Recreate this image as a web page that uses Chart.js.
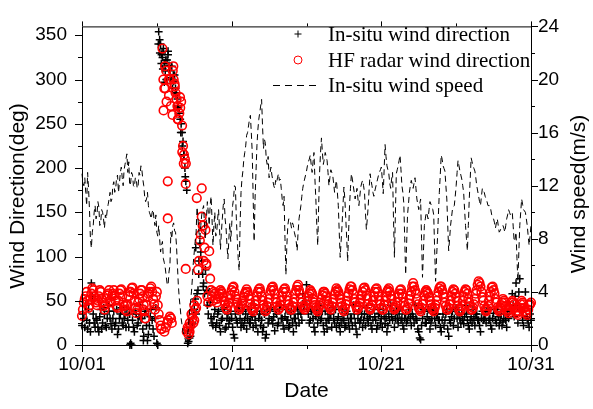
<!DOCTYPE html>
<html><head><meta charset="utf-8">
<script src="https://cdn.jsdelivr.net/npm/chart.js@4.4.1/dist/chart.umd.min.js"></script>
<style>html,body{margin:0;padding:0;background:#fff}#wrap{width:593px;height:409px;position:relative}</style>
</head><body><div id="wrap"><canvas id="c"></canvas></div>
<script>
// time step between samples (days from 10/01 00:00); "Mid" arrays are sampled half a step later
const STEP_DAYS = 0.125;

const dayTicks = [0, 10, 20, 30];
const dayTickLabels = ['10/01', '10/11', '10/21', '10/31'];
const dayMinorTicks = [5, 15, 25];
const dirTicks = [0, 50, 100, 150, 200, 250, 300, 350];
const dirMinorTicks = [25, 75, 125, 175, 225, 275, 325];
const speedTicks = [0, 4, 8, 12, 16, 20, 24];
const speedMinorTicks = [2, 6, 10, 14, 18, 22];

const seriesNames = ['In-situ wind direction', 'HF radar wind direction', 'In-situ wind speed'];
const axisTitles = { x: 'Date', y: 'Wind Direction(deg)', y2: 'Wind speed(m/s)' };

// In-situ wind direction (deg)
const insituDir = [
 22,30,45,18,25,70,35,20, 28,15,40,25,35,20,45,30, 18,38,25,12,30,42,22,35,
 40,20,2,28,15,35,25,45, 30,10,38,5,22,40,18,30, 2,354,340,325,318,300,328,310,
 315,298,290,278,262,250,230,200, 175,4,10,25,40,35,62,115, 95,70,85,45,60,30,22,40,
 25,38,15,30,42,20,35,28, 30,12,35,25,42,20,38,28, 18,40,25,32,45,22,15,35,
 28,20,8,38,30,42,24,16, 35,25,45,30,18,40,28,22, 38,15,30,42,25,35,58,45,
 68,35,28,40,20,32,25,45, 30,22,38,18,28,35,42,25, 20,32,15,40,28,22,35,18,
 30,45,25,12,38,28,20,35, 42,25,32,18,40,28,22,36, 30,40,24,15,35,45,28,20,
 38,25,42,30,18,35,28,40, 22,32,45,28,15,6,30,38, 25,40,18,30,42,22,35,28,
 15,35,28,40,10,25,38,30, 42,20,30,36,24,45,28,18, 32,40,22,35,28,15,38,30,
 25,42,30,18,36,28,40,22, 35,26,40,20,30,45,58,32, 70,25,75,38,22,60,30,20,
 28
];
const insituDirMid = [
 35,20,28,40,15,55,25,30, 20,32,18,42,22,30,38,24, 30,22,40,18,35,25,30,20,
 28,35,0,20,38,22,32,30, 18,35,22,12,32,28,10,42, 0,345,328,335,310,322,316,302,
 300,305,284,268,255,240,215,185, 2,8,20,35,52,58,95,105, 80,58,62,35,48,25,32,20,
 35,22,28,40,18,30,24,38, 20,8,28,38,30,25,22,35, 30,25,35,20,28,38,30,22,
 15,35,12,25,40,28,32,38, 22,40,30,22,32,28,20,35, 25,30,22,35,40,28,45,50,
 40,25,38,30,15,40,35,28, 38,15,25,30,35,20,30,40, 28,22,25,30,20,38,25,30,
 22,35,18,30,25,35,28,22, 30,35,22,28,32,18,35,25, 20,32,30,22,28,32,38,30,
 30,35,28,22,30,25,35,30, 35,25,30,18,8,22,40,25, 32,28,25,38,30,35,28,20,
 28,22,35,18,28,32,22,40, 30,35,25,28,32,35,22,28, 25,30,35,28,22,30,28,35,
 38,28,22,30,40,25,32,28, 22,30,28,35,38,40,45,55, 45,60,40,28,42,32,25,35
];
const insituExtraDay = [5.1,5.2,5.3,5.35,5.4,5.5,5.6,5.75,5.9,6.05,6.1,6.25,6.4,6.6,6.7,6.8,6.9,7.6,7.8,8.1,3.2,4.1];
const insituExtraDir = [340,330,318,330,312,297,322,332,300,290,305,285,270,240,225,215,190,110,80,66,0,5];

// HF radar wind direction (deg)
const radarDir = [
 33,48,55,50,45,58,62,52, 45,55,60,48,40,52,58,50, 55,62,50,42,58,63,48,40,
 38,55,60,65,50,36,48,58, 62,45,30,55,60,66,52,40, 60,35,22,335,15,310,28,300,
 25,300,285,270,262,275,225,210, 15,12,22,30,28,42,85,118, 145,95,130,55,106,62,50,58,
 48,55,62,58,50,42,45,52, 62,66,55,48,40,44,50,58, 63,56,46,40,42,50,60,64,
 55,45,38,44,52,62,66,58, 48,40,45,55,63,60,50,42, 40,48,58,66,62,52,44,40,
 46,55,62,58,48,42,38,45, 52,60,58,50,44,40,48,57, 64,60,52,44,38,46,55,63,
 66,58,48,40,44,52,60,65, 56,46,40,45,55,63,60,50, 42,40,50,60,64,56,46,40,
 44,54,62,58,48,40,42,52, 60,70,62,52,42,38,46,56, 62,58,50,42,38,45,55,64,
 66,58,48,40,42,50,60,62, 54,44,38,44,55,63,58,48, 40,42,52,62,72,66,54,44,
 38,44,55,65,62,52,42,38, 45,52,48,40,36,44,50,46, 38,34,42,50,46,38,34,45,
 48
];
const radarDirMid = [
 40,52,60,42,52,64,55,48, 50,62,52,44,46,56,62,48, 58,56,44,50,62,55,44,45,
 46,60,64,58,42,40,52,62, 55,38,45,58,64,60,46,55, 45,28,18,300,290,25,282,270,
 310,295,278,255,268,248,215,205, 20,15,35,25,40,50,95,125, 135,110,90,48,75,55,60,52,
 52,58,60,54,46,40,48,56, 65,60,52,44,42,47,54,60, 60,52,42,38,46,55,63,60,
 50,42,40,48,57,65,62,52, 44,42,50,60,64,55,46,40, 44,52,62,68,58,48,42,43,
 50,58,60,52,45,40,42,48, 56,60,55,46,42,44,52,60, 62,56,48,40,42,50,58,66,
 62,52,44,42,48,56,64,62, 52,42,42,50,60,64,55,46, 40,45,55,62,60,52,42,42,
 48,58,63,54,44,40,47,56, 66,66,58,46,40,42,50,60, 60,54,46,40,42,50,60,66,
 62,54,44,40,46,55,63,58, 50,40,40,50,60,62,52,44, 40,46,58,68,70,60,50,40,
 40,50,60,66,58,48,40,42, 48,50,44,38,40,48,48,42, 36,38,46,48,42,36,40,46
];
const radarExtraDay = [4.1,4.2,5.3,5.45,5.5,5.55,5.6,5.65,5.73,5.73,5.8,5.87,5.95,6.05,6.1,6.2,6.4,6.55,6.7,6.8,6.93,6.93,7.1,7.2,7.35,7.5,7.67,8.0,8.1,8.3];
const radarExtraDir = [40,30,18,265,290,315,20,275,185,143,300,32,30,260,315,292,255,280,218,205,182,86,18,25,35,45,166,177,135,92];

// In-situ wind speed (m/s)
const windSpeed = [
 12.9,12.0,11.5,13.0,10.2,7.3,9.0,10.5, 9.8,10.4,9.2,10.0,8.8,9.5,10.6,11.5, 11.0,12.3,11.8,12.8,12.2,13.4,12.0,13.6,
 14.4,13.8,12.2,12.8,11.9,12.5,12.0,12.8, 13.2,12.0,10.8,11.5,10.0,9.5,10.2,9.0, 8.5,9.0,7.0,7.8,6.2,5.2,4.5,6.0,
 8.0,9.2,8.5,6.0,3.5,2.0,1.0,0.5, 0.4,1.5,3.2,5.0,7.0,8.5,9.5,8.0, 9.8,10.5,8.0,10.8,9.0,11.2,7.5,10.0,
 8.5,10.2,7.2,9.5,11.0,8.8,6.5,9.2, 9.0,11.0,11.9,8.0,5.6,11.5,13.1,14.5, 15.8,16.5,17.3,14.5,7.8,13.0,16.2,17.5,
 18.5,14.8,15.2,13.6,12.6,13.4,12.4,11.8, 12.2,12.9,12.5,11.0,11.2,5.3,9.0,9.5, 8.8,9.0,8.2,7.1,9.5,10.5,11.8,12.5,
 13.1,13.8,14.3,13.0,14.5,11.0,7.5,13.0, 15.6,13.6,14.5,13.9,12.0,13.2,12.8,11.5, 12.4,10.5,6.6,9.0,11.9,9.5,6.3,10.5,
 12.9,12.0,11.0,11.8,10.5,11.9,12.4,11.5, 8.7,10.5,12.9,12.0,11.2,11.9,12.5,13.0, 13.4,11.4,15.1,13.5,12.9,11.8,13.0,6.6,
 12.9,13.5,14.3,12.0,10.7,5.3,9.8,11.5, 12.4,11.8,12.6,11.0,10.2,11.0,5.1,9.0, 10.0,9.5,10.8,10.5,9.8,4.8,8.0,11.5,
 14.3,13.5,13.1,11.0,7.1,9.0,10.2,10.5, 12.0,13.9,13.1,12.5,11.5,9.0,7.1,11.0, 14.1,13.5,13.1,12.0,11.2,10.5,11.8,11.5,
 11.0,10.5,10.5,9.8,9.5,8.8,9.5,8.5, 8.8,9.0,8.5,9.5,10.2,9.8,10.0,7.8, 8.5,4.8,9.0,11.0,10.2,10.0,9.0,7.5,
 9.0
];
const windSpeedMid = [
 12.2,12.6,10.5,11.8,8.0,8.5,10.0,9.5, 10.8,9.0,10.2,9.5,9.8,10.2,11.0,10.8, 12.0,11.5,12.6,11.5,13.0,12.6,13.2,14.0,
 13.0,12.0,13.0,12.0,12.6,11.8,13.0,13.5, 12.5,11.2,11.0,10.5,9.8,10.0,9.5,9.8, 8.2,8.0,7.5,6.5,5.8,4.6,5.5,8.5,
 9.0,8.6,7.5,4.5,2.8,1.5,0.8,0.3, 0.8,2.5,4.0,6.2,7.8,10.4,8.5,9.0, 10.2,9.0,9.5,10.0,10.5,9.5,9.0,8.2,
 9.5,8.8,8.5,10.5,9.5,7.5,8.0,7.8, 10.5,12.0,9.5,6.5,9.0,12.5,14.0,15.0, 16.0,17.0,16.0,11.0,11.0,15.0,17.0,18.0,
 16.5,15.5,14.0,14.2,13.0,12.8,12.0,12.4, 12.6,12.4,11.8,10.5,8.0,7.5,9.5,9.2, 9.2,8.5,7.8,8.5,10.0,11.2,12.2,12.8,
 13.5,14.0,13.6,13.8,12.5,9.0,10.5,14.5, 14.5,14.0,14.2,13.0,12.6,13.0,12.2,12.0, 11.5,8.5,7.8,10.5,11.0,8.0,8.5,11.8,
 12.5,11.5,11.4,11.0,11.2,12.2,12.0,10.0, 9.5,11.8,12.4,11.5,11.6,12.2,12.8,13.2, 12.5,13.2,14.2,13.2,12.2,12.5,9.5,9.8,
 13.2,13.9,13.2,11.5,8.0,7.5,10.6,12.0, 12.1,12.2,11.8,10.6,10.6,8.0,7.0,9.5, 9.8,10.2,10.6,10.2,7.2,6.5,9.8,12.8,
 14.0,13.3,12.0,9.0,8.0,9.6,10.4,11.2, 13.0,13.5,12.8,12.0,10.2,8.0,9.0,12.5, 13.8,13.3,12.6,11.6,10.8,11.2,11.6,11.2,
 10.8,10.5,10.2,9.6,9.2,9.2,9.0,8.6, 8.9,8.8,9.0,9.8,10.0,9.9,8.9,8.0, 6.5,7.0,10.0,10.6,10.1,9.5,8.2,8.2
];

// merge the on-step and half-step samples into one time-ordered table
const mergePts = (main, mid) => {
  const out = [];
  main.forEach((v, i) => {
    out.push({ x: i * STEP_DAYS, y: v });
    if (i < mid.length) out.push({ x: (i + 0.5) * STEP_DAYS, y: mid[i] });
  });
  return out;
};
const pairPts = (d, v) => d.map((x, i) => ({ x, y: v[i] }));

const SANS = '"Liberation Sans", Arial, sans-serif';
const SERIF = '"Liberation Serif", "Times New Roman", serif';

const crossStyle = { showLine: false, pointStyle: 'cross', pointRadius: 3.9, pointBorderWidth: 1.5, borderColor: '#000', backgroundColor: '#000', yAxisID: 'y', clip: false, order: 2 };
const circleStyle = { showLine: false, pointStyle: 'circle', pointRadius: 4.3, pointBorderWidth: 1.6, borderColor: '#ff0000', backgroundColor: 'rgba(0,0,0,0)', yAxisID: 'y', clip: false, order: 1 };

const decor = {
  id: 'decor',
  afterDraw(chart) {
    const { ctx, chartArea: a, scales } = chart;
    const { x, y, y2 } = scales;
    ctx.save();
    ctx.strokeStyle = '#000';
    ctx.lineWidth = 1;
    ctx.setLineDash([]);
    ctx.strokeRect(a.left + 0.5, a.top + 0.5, a.right - a.left, a.bottom - a.top);
    const line = (x1, y1, x2, y2_) => { ctx.beginPath(); ctx.moveTo(x1, y1); ctx.lineTo(x2, y2_); ctx.stroke(); };
    const px = v => Math.round(x.getPixelForValue(v)) + 0.5;
    dayTicks.forEach(v => { const p = px(v); line(p, a.bottom, p, a.bottom + 7); line(p, a.top, p, a.top - 5); });
    dayMinorTicks.forEach(v => { const p = px(v); line(p, a.bottom, p, a.bottom + 4); line(p, a.top, p, a.top - 3); });
    dirTicks.forEach(v => { const p = Math.round(y.getPixelForValue(v)) + 0.5; line(a.left, p, a.left - 7, p); });
    dirMinorTicks.forEach(v => { const p = Math.round(y.getPixelForValue(v)) + 0.5; line(a.left, p, a.left - 4, p); });
    speedTicks.forEach(v => { const p = Math.round(y2.getPixelForValue(v)) + 0.5; line(a.right, p, a.right + 7, p); });
    speedMinorTicks.forEach(v => { const p = Math.round(y2.getPixelForValue(v)) + 0.5; line(a.right, p, a.right + 4, p); });

    ctx.fillStyle = '#000';
    ctx.font = '21px ' + SANS;
    ctx.textAlign = 'center';
    ctx.textBaseline = 'middle';
    ctx.fillText(axisTitles.x, (a.left + a.right) / 2, 391);
    ctx.save(); ctx.translate(18, 196); ctx.rotate(-Math.PI / 2); ctx.fillText(axisTitles.y, 0, 0); ctx.restore();
    ctx.save(); ctx.translate(579, 194); ctx.rotate(-Math.PI / 2); ctx.fillText(axisTitles.y2, 0, 0); ctx.restore();

    const rows = [34, 60, 85];
    ctx.font = '21px ' + SERIF;
    ctx.textAlign = 'left';
    seriesNames.forEach((n, i) => ctx.fillText(n, 328, rows[i] + 1));
    line(298, rows[0] - 3.5, 298, rows[0] + 3.5);
    line(294.5, rows[0], 301.5, rows[0]);
    ctx.strokeStyle = '#ff0000';
    ctx.beginPath(); ctx.arc(298, rows[1], 4, 0, Math.PI * 2); ctx.stroke();
    ctx.strokeStyle = '#000';
    ctx.setLineDash([7, 5]);
    line(273, rows[2] + 0.5, 316, rows[2] + 0.5);
    ctx.restore();
  }
};

new Chart(document.getElementById('c'), {
  type: 'scatter',
  data: {
    datasets: [
      { label: seriesNames[2], data: mergePts(windSpeed, windSpeedMid), showLine: true, yAxisID: 'y2', borderColor: '#000', borderWidth: 1, borderDash: [6, 4], pointRadius: 0, tension: 0, fill: false, clip: false, order: 0 },
      Object.assign({ label: seriesNames[0], data: mergePts(insituDir, insituDirMid) }, crossStyle),
      Object.assign({ label: seriesNames[0] + ' (extra)', data: pairPts(insituExtraDay, insituExtraDir) }, crossStyle),
      Object.assign({ label: seriesNames[1], data: mergePts(radarDir, radarDirMid) }, circleStyle),
      Object.assign({ label: seriesNames[1] + ' (extra)', data: pairPts(radarExtraDay, radarExtraDir) }, circleStyle)
    ]
  },
  options: {
    responsive: true,
    maintainAspectRatio: false,
    animation: false,
    events: [],
    layout: { padding: { top: 16, left: 0, right: 0, bottom: 0 } },
    plugins: { legend: { display: false }, tooltip: { enabled: false } },
    scales: {
      x: {
        type: 'linear', position: 'bottom', min: 0, max: 30,
        afterBuildTicks: s => { s.ticks = dayTicks.map(v => ({ value: v })); },
        afterFit: s => { s.height = 64; },
        grid: { display: false, drawTicks: false, tickLength: 0 },
        border: { display: false },
        ticks: { autoSkip: false, maxRotation: 0, padding: 8, color: '#000', font: { family: SANS, size: 19 },
          callback: v => dayTickLabels[dayTicks.indexOf(v)] }
      },
      y: {
        type: 'linear', position: 'left', min: 0, max: 360,
        afterBuildTicks: s => { s.ticks = dirTicks.map(v => ({ value: v })); },
        afterFit: s => { s.width = 82; },
        grid: { display: false, drawTicks: false, tickLength: 0 },
        border: { display: false },
        ticks: { padding: 15, color: '#000', font: { family: SANS, size: 19 } }
      },
      y2: {
        type: 'linear', position: 'right', min: 0, max: 24,
        afterBuildTicks: s => { s.ticks = speedTicks.map(v => ({ value: v })); },
        afterFit: s => { s.width = 62; },
        grid: { display: false, drawTicks: false, tickLength: 0 },
        border: { display: false },
        ticks: { padding: 7, color: '#000', font: { family: SANS, size: 19 } }
      }
    }
  },
  plugins: [decor]
});
</script>
</body></html>
